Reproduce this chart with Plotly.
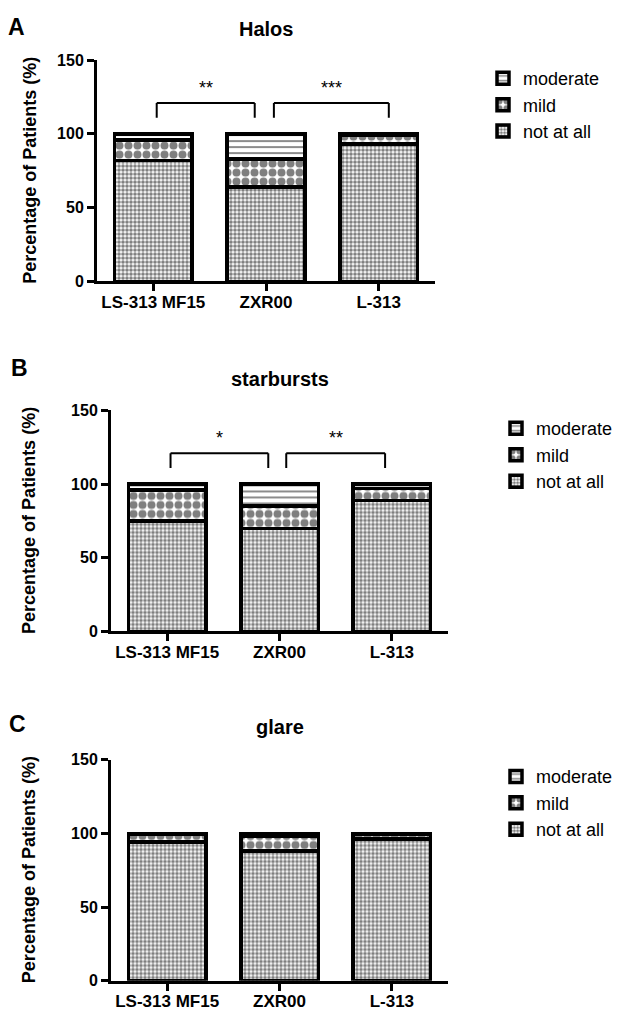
import plotly.graph_objects as go

# ---------------- data ----------------
categories = ["LS-313 MF15", "ZXR00", "L-313"]
levels = ["not at all", "mild", "moderate"]
panel_titles = ["Halos", "starbursts", "glare"]
panel_letters = ["A", "B", "C"]
y_ticks = [0, 50, 100, 150]

halos_not_at_all = [82, 64, 93]
halos_mild = [14, 19, 6]
halos_moderate = [4, 17, 1]

starbursts_not_at_all = [75, 70, 89]
starbursts_mild = [21, 15, 8]
starbursts_moderate = [4, 15, 3]

glare_not_at_all = [94, 88, 96]
glare_mild = [5, 10, 3]
glare_moderate = [1, 2, 1]

# significance brackets: (left x, right x, label) in category units
halos_comparisons = [(0.03, 0.9, "**"), (1.07, 2.09, "***")]
starbursts_comparisons = [(0.03, 0.9, "*"), (1.06, 1.94, "**")]
glare_comparisons = []

panels = [
    [halos_not_at_all, halos_mild, halos_moderate],
    [starbursts_not_at_all, starbursts_mild, starbursts_moderate],
    [glare_not_at_all, glare_mild, glare_moderate],
]
comparisons = [halos_comparisons, starbursts_comparisons, glare_comparisons]

# ---------------- styling ----------------
W, H = 619, 1017
FONT = "Liberation Sans, Arial, sans-serif"
patterns = {
    "not at all": dict(shape=".", size=4, solidity=0.65, fgcolor="black", bgcolor="white"),
    "mild": dict(shape=".", size=9, solidity=0.62, fgcolor="black", bgcolor="white"),
    "moderate": dict(shape="-", size=6, solidity=0.3, fgcolor="black", bgcolor="white"),
}
# pixel geometry of each panel: (x_left, x_right, y_top(150), y_bottom(0))
geom = [(97, 435, 53, 278), (111, 448, 409.3, 634), (111, 448, 764.3, 989.3)]
legend_pos = [(483, 53), (496, 409), (496, 763)]
title_pos = [(266, 21), (279.5, 377), (279.5, 731)]
letter_pos = [(16, 19), (19, 366), (17, 728)]
ytitle_x = [30, 29, 29]

fig = go.Figure()
annotations = []
shapes = []

for p, data in enumerate(panels):
    sfx = "" if p == 0 else str(p + 1)
    xa, ya = "x" + sfx, "y" + sfx
    lg = "legend" + sfx
    for lev, vals in zip(levels, data):
        fig.add_trace(go.Bar(
            x=categories, y=vals, name=lev, xaxis=xa, yaxis=ya, legend=lg,
            width=0.69,
            marker=dict(color="white", pattern=patterns[lev],
                        line=dict(color="black", width=3.5)),
        ))
    x0p, x1p, ytp, ybp = geom[p]
    fig.layout["xaxis" + sfx] = dict(
        domain=[x0p / W, x1p / W], anchor=ya, range=[-0.5, 2.5],
        showline=True, linewidth=3, linecolor="black",
        ticks="outside", ticklen=7, tickwidth=3, tickcolor="black",
        ticklabelstandoff=-4,
        showgrid=False, zeroline=False,
        tickfont=dict(family=FONT, size=17, color="black", weight="bold"),
    )
    fig.layout["yaxis" + sfx] = dict(
        domain=[1 - ybp / H, 1 - ytp / H], anchor=xa, range=[0, 150],
        tickvals=y_ticks,
        showline=True, linewidth=3, linecolor="black",
        ticks="outside", ticklen=7, tickwidth=3, tickcolor="black",
        showgrid=False, zeroline=False,
        tickfont=dict(family=FONT, size=16, color="black", weight="bold"),
    )
    lx, ly = legend_pos[p]
    fig.layout[lg] = dict(
        x=lx / W, y=1 - ly / H, xanchor="left", yanchor="top",
        traceorder="reversed", bgcolor="rgba(0,0,0,0)", tracegroupgap=0,
        font=dict(family=FONT, size=18, color="black"),
    )
    tx, ty = title_pos[p]
    annotations.append(dict(
        text=panel_titles[p], xref="paper", yref="paper", x=tx / W, y=1 - ty / H,
        xanchor="center", yanchor="middle", showarrow=False,
        font=dict(family=FONT, size=20, color="black", weight="bold")))
    lx2, ly2 = letter_pos[p]
    annotations.append(dict(
        text=panel_letters[p], xref="paper", yref="paper", x=lx2 / W, y=1 - ly2 / H,
        xanchor="center", yanchor="middle", showarrow=False,
        font=dict(family=FONT, size=23, color="black", weight="bold")))
    annotations.append(dict(
        text="Percentage of Patients (%)", xref="paper", yref="paper",
        x=ytitle_x[p] / W, y=1 - (ytp + ybp) / 2 / H, textangle=-90,
        xanchor="center", yanchor="middle", showarrow=False,
        font=dict(family=FONT, size=18, color="black", weight="bold")))
    for (bx0, bx1, lab) in comparisons[p]:
        for (a0, b0, a1, b1) in [(bx0, 111, bx0, 121), (bx0, 121, bx1, 121), (bx1, 121, bx1, 111)]:
            shapes.append(dict(type="line", xref=xa, yref=ya, x0=a0, y0=b0, x1=a1, y1=b1,
                               line=dict(color="black", width=2)))
        annotations.append(dict(
            text=lab, xref=xa, yref=ya, x=(bx0 + bx1) / 2, y=131,
            xanchor="center", yanchor="middle", showarrow=False,
            font=dict(family=FONT, size=18, color="black")))

fig.update_layout(
    width=W, height=H, barmode="stack",
    margin=dict(l=0, r=0, t=0, b=0),
    paper_bgcolor="white", plot_bgcolor="white",
    annotations=annotations, shapes=shapes,
)

fig.write_html("out.html")
